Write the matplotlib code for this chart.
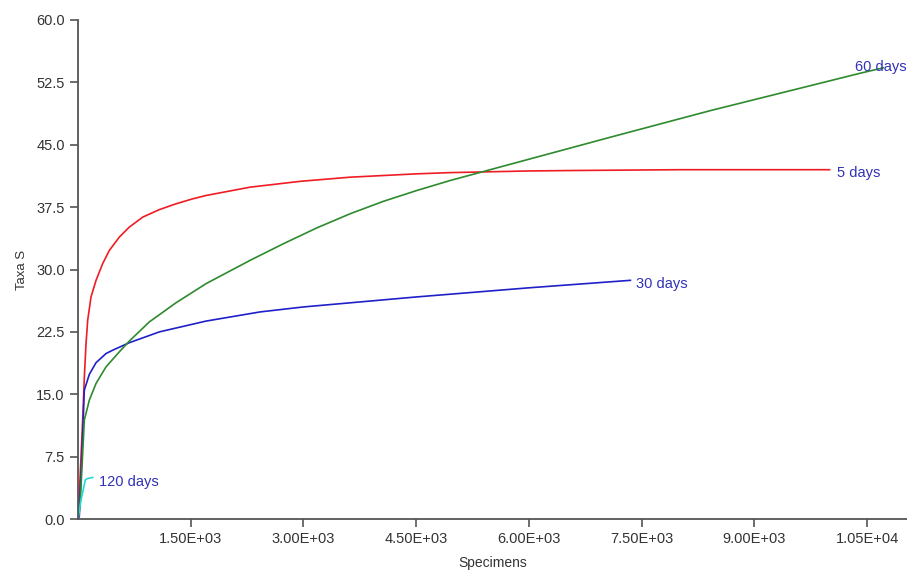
import matplotlib
matplotlib.use("Agg")
import matplotlib.pyplot as plt
from matplotlib.ticker import FuncFormatter

plt.rcParams['font.family'] = ['Liberation Sans', 'DejaVu Sans']

# rarefaction curves, values
red_x = [0, 30, 62, 84, 106, 129, 173, 240, 328, 417, 550, 683, 861, 1082, 1304,
         1527, 1704, 2289, 2955, 3620, 4500, 4951, 6000, 6549, 8000, 10000]
red_y = [0, 5.5, 11.9, 17.0, 21.0, 23.9, 26.7, 28.7, 30.7, 32.3, 33.9, 35.1, 36.3, 37.2, 37.9,
         38.5, 38.9, 39.9, 40.6, 41.1, 41.5, 41.65, 41.85, 41.9, 42.0, 42.0]

blue_x = [0, 17, 53, 84, 151, 240, 373, 462, 683, 1082, 1704, 2422, 3000, 3750,
          4500, 6000, 7350]
blue_y = [0, 0.3, 7.9, 15.5, 17.4, 18.8, 19.9, 20.3, 21.2, 22.5, 23.8, 24.9, 25.5, 26.1,
          26.7, 27.8, 28.7]

green_x = [0, 27, 84, 151, 240, 373, 550, 683, 949, 1304, 1704, 2289, 2733, 3177,
           3620, 4064, 4508, 4951, 5484, 6016, 6549, 7081, 7746, 8412, 9077, 9743,
           10408, 10715]
green_y = [0, 1.5, 11.9, 14.3, 16.3, 18.3, 20.1, 21.4, 23.7, 26.0, 28.3, 31.1, 33.1, 35.0,
           36.7, 38.2, 39.5, 40.7, 42.0, 43.3, 44.6, 45.9, 47.5, 49.1, 50.6, 52.1,
           53.6, 54.25]

cyan_x = [0, 40, 98, 120, 146, 195]
cyan_y = [0, 2.3, 4.7, 4.85, 4.9, 5.0]

labels = ['5 days', '30 days', '60 days', '120 days']
label_x = [10100, 7427, 10342, 280]
label_y = [41.6, 28.3, 54.3, 4.4]

x_ticks = [1500, 3000, 4500, 6000, 7500, 9000, 10500]
y_ticks = [0, 7.5, 15, 22.5, 30, 37.5, 45, 52.5, 60]

fig = plt.figure(figsize=(9.07, 5.71), dpi=100)
ax = fig.add_axes([0.086, 0.091, 0.914, 0.874])

ax.plot(red_x, red_y, color='#f01c24', lw=1.2)
ax.plot(blue_x, blue_y, color='#2020c8', lw=1.2)
ax.plot(green_x, green_y, color='#2e8a2e', lw=1.2)
ax.plot(cyan_x, cyan_y, color='#22d8d8', lw=1.2)

for t, x, y in zip(labels, label_x, label_y):
    ax.text(x, y, t, color='#3232b8', fontsize=10.5, va='center', ha='left', clip_on=False)

ax.set_xlim(0, 11030)
ax.set_ylim(0, 60)
ax.set_xticks(x_ticks)
ax.set_yticks(y_ticks)
ax.xaxis.set_major_formatter(FuncFormatter(lambda v, p: f"{v:.2E}"))
ax.yaxis.set_major_formatter(FuncFormatter(lambda v, p: f"{v:.1f}"))

for s in ['top', 'right']:
    ax.spines[s].set_visible(False)
for s in ['left', 'bottom']:
    ax.spines[s].set_color('#555555')
    ax.spines[s].set_linewidth(1.3)
ax.tick_params(colors='#555555', length=6, width=1.2, labelsize=10.5, labelcolor='#333333')

ax.set_xlabel('Specimens', fontsize=10, color='#333333', labelpad=7)
ax.set_ylabel('Taxa S', fontsize=9.5, color='#333333', labelpad=6)

fig.savefig('out.png', dpi=100)
